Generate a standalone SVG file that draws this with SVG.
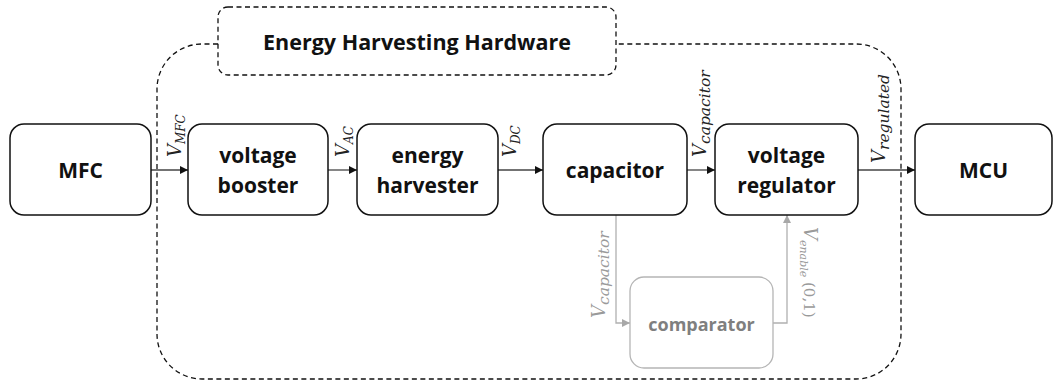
<svg xmlns="http://www.w3.org/2000/svg" width="1064" height="386" viewBox="0 0 1064 386">
<style>
.box{fill:#fff;stroke:#111;stroke-width:1.5}
.gbox{fill:#fff;stroke:#b5b5b5;stroke-width:1.3}
.lbl{font-family:"Open Sans","Lato",sans-serif;font-weight:bold;font-size:21px;fill:#111;text-anchor:middle}
.glbl{font-family:"Open Sans","Lato",sans-serif;font-weight:bold;font-size:18px;fill:#7f7f7f;text-anchor:middle}
.title{font-family:"Open Sans","Lato",sans-serif;font-weight:bold;font-size:21.5px;fill:#111;text-anchor:middle}
.dash{fill:none;stroke:#111;stroke-width:1.3;stroke-dasharray:5 3.5}
.wire{fill:none;stroke:#444;stroke-width:1.3}
.gwire{fill:none;stroke:#b0b0b0;stroke-width:1.3}
.math{font-family:"DejaVu Serif","Liberation Serif",serif;font-style:italic;font-size:18px;fill:#222}
.gmath{font-family:"DejaVu Serif","Liberation Serif",serif;font-style:italic;font-size:18px;fill:#9a9a9a}
.sub{font-size:15.5px}
.usub{font-size:12px}
</style>
<defs>
<marker id="ah" viewBox="0 0 10 10" refX="10" refY="5" markerWidth="9" markerHeight="8" markerUnits="userSpaceOnUse" orient="auto">
<path d="M0,0 L10,5 L0,10 z" fill="#111"/>
</marker>
<marker id="gah" viewBox="0 0 10 10" refX="10" refY="5" markerWidth="9" markerHeight="8" markerUnits="userSpaceOnUse" orient="auto">
<path d="M0,0 L10,5 L0,10 z" fill="#a8a8a8"/>
</marker>
</defs>

<g id="boundary">
<path class="dash" d="M218,44 L202,44 A45,45 0 0 0 157,89 L157,334 A45,45 0 0 0 202,379 L856,379 A45,45 0 0 0 901,334 L901,89 A45,45 0 0 0 856,44 L616,44"/>
</g>
<g id="title">
<rect class="dash" x="218" y="7" width="398" height="68" rx="10" fill="#fff"/>
<text class="title" x="417" y="50">Energy Harvesting Hardware</text>
</g>

<g id="connectors">
<line class="wire" x1="151" y1="170" x2="188" y2="170" marker-end="url(#ah)"/>
<line class="wire" x1="328" y1="170" x2="357" y2="170" marker-end="url(#ah)"/>
<line class="wire" x1="498" y1="170" x2="543" y2="170" marker-end="url(#ah)"/>
<line class="wire" x1="687" y1="170" x2="715" y2="170" marker-end="url(#ah)"/>
<line class="wire" x1="858" y1="170" x2="915" y2="170" marker-end="url(#ah)"/>
<path class="gwire" d="M616,215 L616,323 L630,323" marker-end="url(#gah)"/>
<path class="gwire" d="M773,323 L787,323 L787,215" marker-end="url(#gah)"/>
<text class="math" transform="translate(181,157) rotate(-90)">V<tspan class="usub" dy="4">MFC</tspan></text>
<text class="math" transform="translate(349,157) rotate(-90)">V<tspan class="usub" dy="4">AC</tspan></text>
<text class="math" transform="translate(516,157) rotate(-90)">V<tspan class="usub" dy="4">DC</tspan></text>
<text class="math" transform="translate(706,157) rotate(-90)">V<tspan class="sub" dy="4">capacitor</tspan></text>
<text class="math" transform="translate(885,163) rotate(-90)">V<tspan class="sub" dy="4">regulated</tspan></text>
<text class="gmath" transform="translate(605,318) rotate(-90)">V<tspan class="sub" dy="4">capacitor</tspan></text>
<text class="gmath" transform="translate(804,227) rotate(90)">V<tspan font-size="11" dy="4">enable</tspan><tspan dy="-4" font-style="normal" font-size="15"> (0,1)</tspan></text>
</g>

<g id="mfc">
<rect class="box" x="10" y="124" width="141" height="91" rx="14"/>
<text class="lbl" x="80.5" y="178">MFC</text>
</g>
<g id="voltage-booster">
<rect class="box" x="188" y="124" width="140" height="91" rx="14"/>
<text class="lbl" x="258" y="163">voltage</text>
<text class="lbl" x="258" y="193">booster</text>
</g>
<g id="energy-harvester">
<rect class="box" x="357" y="124" width="141" height="91" rx="14"/>
<text class="lbl" x="427.5" y="163">energy</text>
<text class="lbl" x="427.5" y="193">harvester</text>
</g>
<g id="capacitor">
<rect class="box" x="543" y="124" width="144" height="91" rx="14"/>
<text class="lbl" x="615" y="178">capacitor</text>
</g>
<g id="voltage-regulator">
<rect class="box" x="715" y="124" width="143" height="91" rx="14"/>
<text class="lbl" x="786.5" y="163">voltage</text>
<text class="lbl" x="786.5" y="193">regulator</text>
</g>
<g id="mcu">
<rect class="box" x="915" y="124" width="137" height="91" rx="14"/>
<text class="lbl" x="983.5" y="178">MCU</text>
</g>
<g id="comparator">
<rect class="gbox" x="630" y="277" width="143" height="91" rx="14"/>
<text class="glbl" x="701.5" y="331">comparator</text>
</g>
</svg>
